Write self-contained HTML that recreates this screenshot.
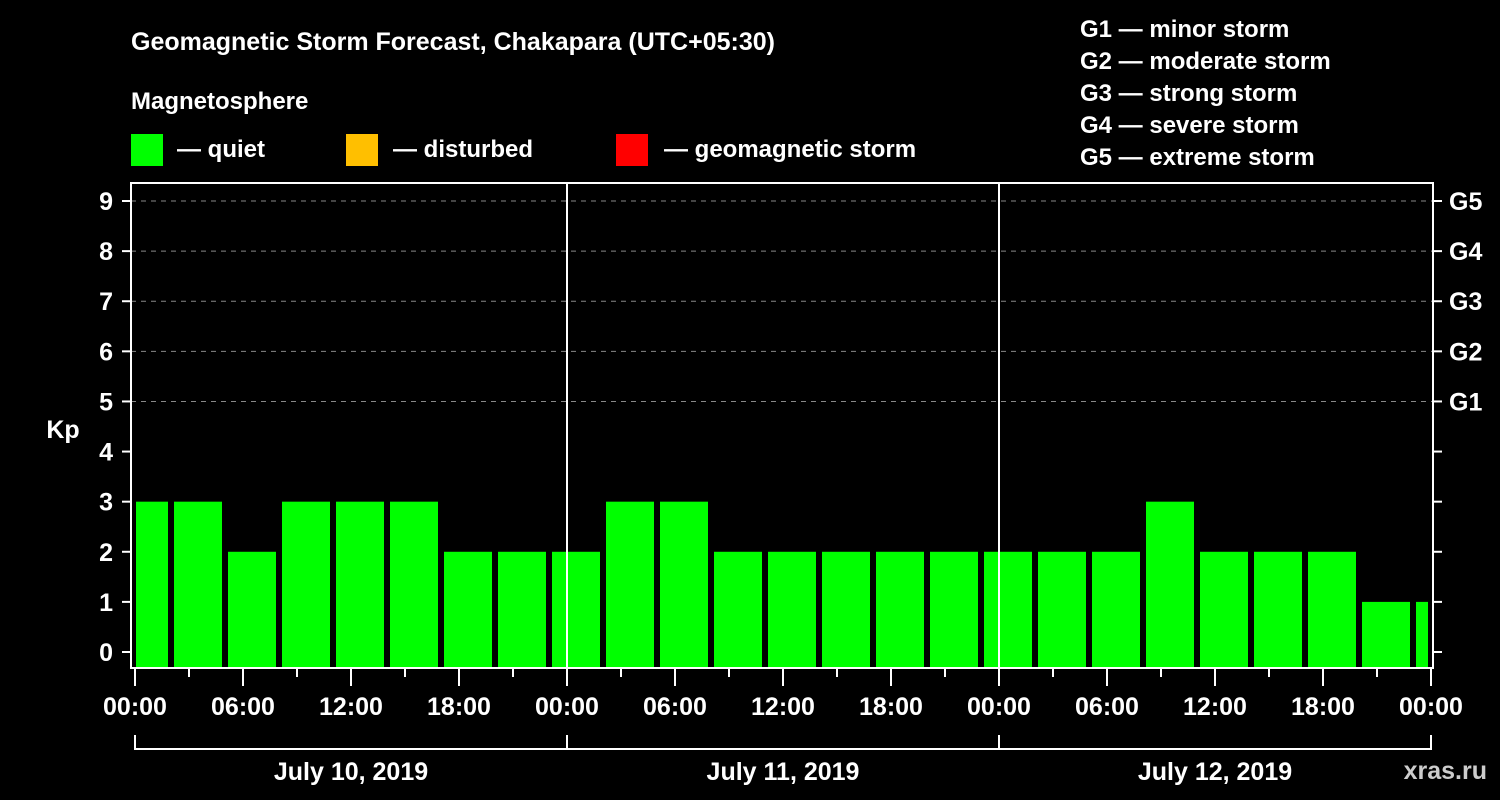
<!DOCTYPE html>
<html><head><meta charset="utf-8"><style>
body{margin:0;background:#000;}
svg{display:block;font-family:"Liberation Sans",Arial,sans-serif;font-weight:bold;}
</style></head><body>
<svg id="chart" width="1500" height="800" viewBox="0 0 1500 800">
<rect width="1500" height="800" fill="#000"/>
<text x="131" y="50" fill="#fff" font-size="25">Geomagnetic Storm Forecast, Chakapara (UTC+05:30)</text>
<text x="131" y="109" fill="#fff" font-size="24">Magnetosphere</text>
<g><rect x="131" y="134" width="32" height="32" fill="#00ff00"/><text x="177" y="157" fill="#fff" font-size="24">— quiet</text></g>
<g><rect x="346" y="134" width="32" height="32" fill="#ffbf00"/><text x="393" y="157" fill="#fff" font-size="24">— disturbed</text></g>
<g><rect x="616" y="134" width="32" height="32" fill="#ff0000"/><text x="664" y="157" fill="#fff" font-size="24">— geomagnetic storm</text></g>
<g fill="#fff" font-size="24">
<text x="1080" y="37">G1 — minor storm</text>
<text x="1080" y="69">G2 — moderate storm</text>
<text x="1080" y="101">G3 — strong storm</text>
<text x="1080" y="133">G4 — severe storm</text>
<text x="1080" y="165">G5 — extreme storm</text>
</g>
<text x="63" y="438" fill="#fff" font-size="25" text-anchor="middle">Kp</text>
<text x="1487" y="779" fill="#ccc" font-size="25" text-anchor="end">xras.ru</text>
<g id="grid"></g><g id="bars"></g><g id="axes"></g>
</svg>
<script>
const blockStartHours=[-1,2,5,8,11,14,17,20,23,26,29,32,35,38,41,44,47,50,53,56,59,62,65,68,71];
const kpValues=[3,3,2,3,3,3,2,2,2,3,3,2,2,2,2,2,2,2,2,3,2,2,2,1,1];
const yTicks=[0,1,2,3,4,5,6,7,8,9];
const gLabels=["G1","G2","G3","G4","G5"];
const gLevels=[5,6,7,8,9];
const xTickLabels=["00:00","06:00","12:00","18:00","00:00","06:00","12:00","18:00","00:00","06:00","12:00","18:00","00:00"];
const dayLabels=["July 10, 2019","July 11, 2019","July 12, 2019"];
const NS="http://www.w3.org/2000/svg";
const X=h=>135+18*h, Y=v=>652-50.11*v;
const L=131,R=1433,T=183,B=668;
function mk(tag,attrs,parent,txt){const e=document.createElementNS(NS,tag);for(const k in attrs)e.setAttribute(k,attrs[k]);if(txt!==undefined)e.textContent=txt;parent.appendChild(e);return e;}
const grid=document.getElementById('grid'),bars=document.getElementById('bars'),axes=document.getElementById('axes');
gLevels.forEach(v=>{const l=mk('line',{x1:L,x2:R,y1:Y(v),y2:Y(v),stroke:'#888','stroke-width':1,'stroke-dasharray':'5,5'},grid);

});
blockStartHours.forEach((h,i)=>{const s=Math.max(0,h),e=Math.min(72,h+3);
const x1=h<0?X(s)+1:X(s)+3, x2=X(e)-3;
const v=kpValues[i];const c=v>=5?'#ff0000':(v>=4?'#ffbf00':'#00ff00');
const r=mk('rect',{x:x1,y:Y(v),width:x2-x1,height:B-Y(v),fill:c},bars);

});
[1,2].forEach(d=>{const l=mk('line',{x1:X(24*d),x2:X(24*d),y1:T,y2:B,stroke:'#fff','stroke-width':2},axes);

});
const fr=mk('rect',{x:L,y:T,width:R-L,height:B-T,fill:'none',stroke:'#fff','stroke-width':2},axes);


yTicks.forEach(v=>{mk('line',{x1:122,x2:L,y1:Y(v),y2:Y(v),stroke:'#fff','stroke-width':2},axes);
mk('line',{x1:R,x2:1442,y1:Y(v),y2:Y(v),stroke:'#fff','stroke-width':2},axes);
const t=mk('text',{x:113,y:Y(v)+9,fill:'#fff','font-size':25,'text-anchor':'end'},axes,String(v));

});
gLevels.forEach((v,i)=>{const t=mk('text',{x:1449,y:Y(v)+9,fill:'#fff','font-size':25},axes,gLabels[i]);

});
for(let h=0;h<=72;h+=3){const major=h%6===0;mk('line',{x1:X(h),x2:X(h),y1:B,y2:major?686:677,stroke:'#fff','stroke-width':2},axes);}
xTickLabels.forEach((s,i)=>{const t=mk('text',{x:X(6*i),y:715,fill:'#fff','font-size':25,'text-anchor':'middle'},axes,s);

});
dayLabels.forEach((s,i)=>{const x1=X(24*i),x2=X(24*(i+1));
mk('path',{d:`M${x1},735 V749 H${x2} V735`,fill:'none',stroke:'#fff','stroke-width':2},axes);
const t=mk('text',{x:(x1+x2)/2,y:780,fill:'#fff','font-size':25,'text-anchor':'middle'},axes,s);

});
</script>
</body></html>
